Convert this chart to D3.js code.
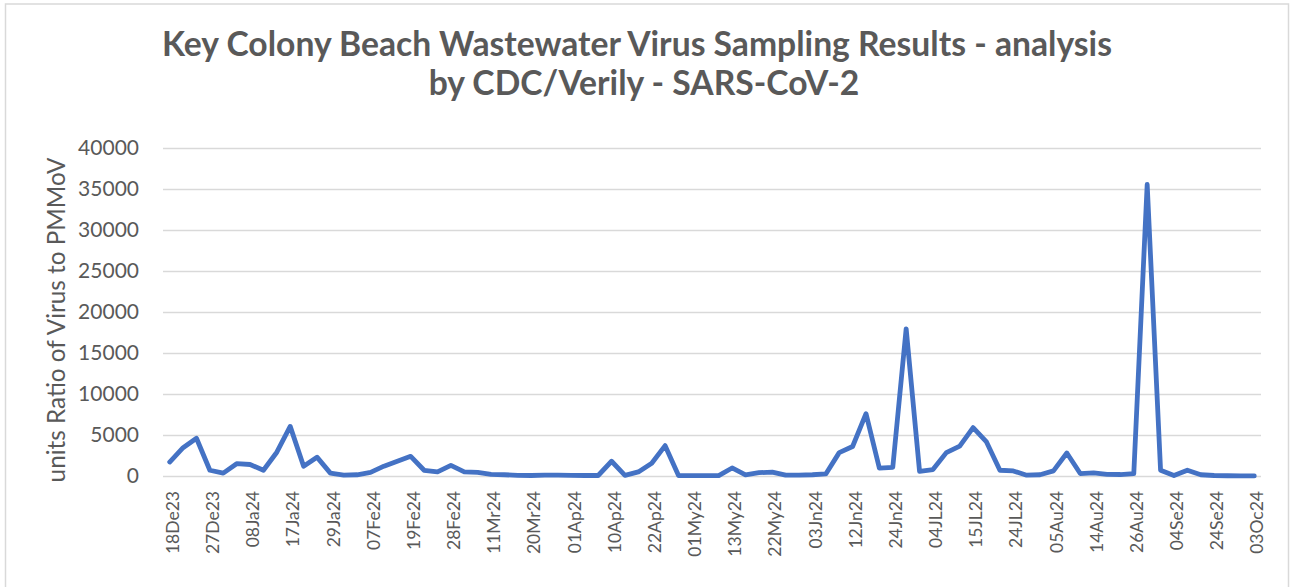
<!DOCTYPE html>
<html>
<head>
<meta charset="utf-8">
<script src="https://cdn.jsdelivr.net/npm/d3@7"></script>
<style>
  html, body { margin: 0; padding: 0; background: #ffffff; }
  svg { display: block; }
  text { font-family: Lato, "Open Sans", "Liberation Sans", sans-serif; fill: #595959; }
</style>
</head>
<body>
<svg id="chart" width="1291" height="587"></svg>
<script>
// ---- data ----
const titleLines = ["Key Colony Beach Wastewater Virus Sampling Results - analysis", "by CDC/Verily - SARS-CoV-2"];
const yAxisTitle = "units Ratio of Virus to PMMoV";
// labels shown on the axis (every third sample)
const tickLabels = ["18De23","27De23","08Ja24","17Ja24","29Ja24","07Fe24","19Fe24","28Fe24","11Mr24","20Mr24",
  "01Ap24","10Ap24","22Ap24","01My24","13My24","22My24","03Jn24","12Jn24","24Jn24","04JL24",
  "15JL24","24JL24","05Au24","14Au24","26Au24","04Se24","24Se24","03Oc24"];
const yTicks = [0,5000,10000,15000,20000,25000,30000,35000,40000];
// one value per sample (82 samples)
const values = [1700,3450,4600,700,350,1500,1400,700,2900,6050,
  1200,2300,350,100,150,450,1200,1800,2400,700,
  500,1300,500,450,200,150,80,60,100,100,
  80,60,60,1800,80,500,1550,3700,50,40,
  40,40,980,150,400,480,100,100,150,250,
  2850,3600,7600,950,1050,17950,570,780,2850,3650,
  5900,4150,700,620,100,150,620,2800,300,370,
  200,180,300,35550,700,50,700,150,60,30,
  20,10];
const tickEvery = 3;

// ---- layout ----
const svg = d3.select("#chart");
const plot = {left: 163, right: 1261, top: 148, bottom: 476};

// chart border
svg.append("rect").attr("x", 5.5).attr("y", 4).attr("width", 1283).attr("height", 620)
  .attr("fill", "#fff").attr("stroke", "#d9d9d9").attr("stroke-width", 1.5);

const x = d3.scalePoint().domain(d3.range(values.length)).range([plot.left, plot.right]).padding(0.5);
const y = d3.scaleLinear().domain([0, 40000]).range([plot.bottom, plot.top]);

// fit helper: scale font-size so text width matches target
function fit(sel, target) {
  const w = sel.node().getComputedTextLength();
  const fs = parseFloat(sel.attr("font-size"));
  sel.attr("font-size", (fs * target / w).toFixed(2));
}

// title
const t1 = svg.append("text").attr("x", 637).attr("y", 56).attr("text-anchor", "middle")
  .attr("font-weight", "bold").attr("font-size", 28).text(titleLines[0]);
fit(t1, 950);
const t2 = svg.append("text").attr("x", 644).attr("y", 95).attr("text-anchor", "middle")
  .attr("font-weight", "bold").attr("font-size", 28).text(titleLines[1]);
t2.attr("font-size", t1.attr("font-size"));

// gridlines + y axis
const yAxis = d3.axisLeft(y).tickValues(yTicks).tickSize(-(plot.right - plot.left)).tickPadding(24).tickFormat(d3.format("d"));
const gy = svg.append("g").attr("transform", `translate(${plot.left},0)`).call(yAxis);
gy.select(".domain").remove();
gy.selectAll(".tick line").attr("stroke", "#d9d9d9").attr("stroke-width", 1.6);
gy.selectAll(".tick text").attr("font-size", 21).attr("fill", "#595959").attr("font-family", null);

// x axis labels
const xAxis = d3.axisBottom(x).tickValues(d3.range(0, values.length, tickEvery))
  .tickSize(0).tickFormat(i => tickLabels[i / tickEvery]);
const gx = svg.append("g").attr("transform", `translate(0,${plot.bottom})`).call(xAxis);
gx.select(".domain").remove();
gx.selectAll(".tick text")
  .attr("font-family", null).attr("fill", "#595959").attr("font-size", 17.5)
  .attr("text-anchor", "end")
  .attr("transform", "rotate(-90)")
  .attr("x", -15).attr("y", 2).attr("dy", "0.38em");

// y axis title
const yt = svg.append("text").attr("text-anchor", "middle")
  .attr("transform", "translate(65,320) rotate(-90)").attr("font-size", 22).text(yAxisTitle);
fit(yt, 325);

// line
const line = d3.line().x((d, i) => x(i)).y(d => y(d));
svg.append("path").datum(values).attr("d", line)
  .attr("fill", "none").attr("stroke", "#4472C4").attr("stroke-width", 4.8)
  .attr("stroke-linejoin", "round").attr("stroke-linecap", "round");
</script>
</body>
</html>
